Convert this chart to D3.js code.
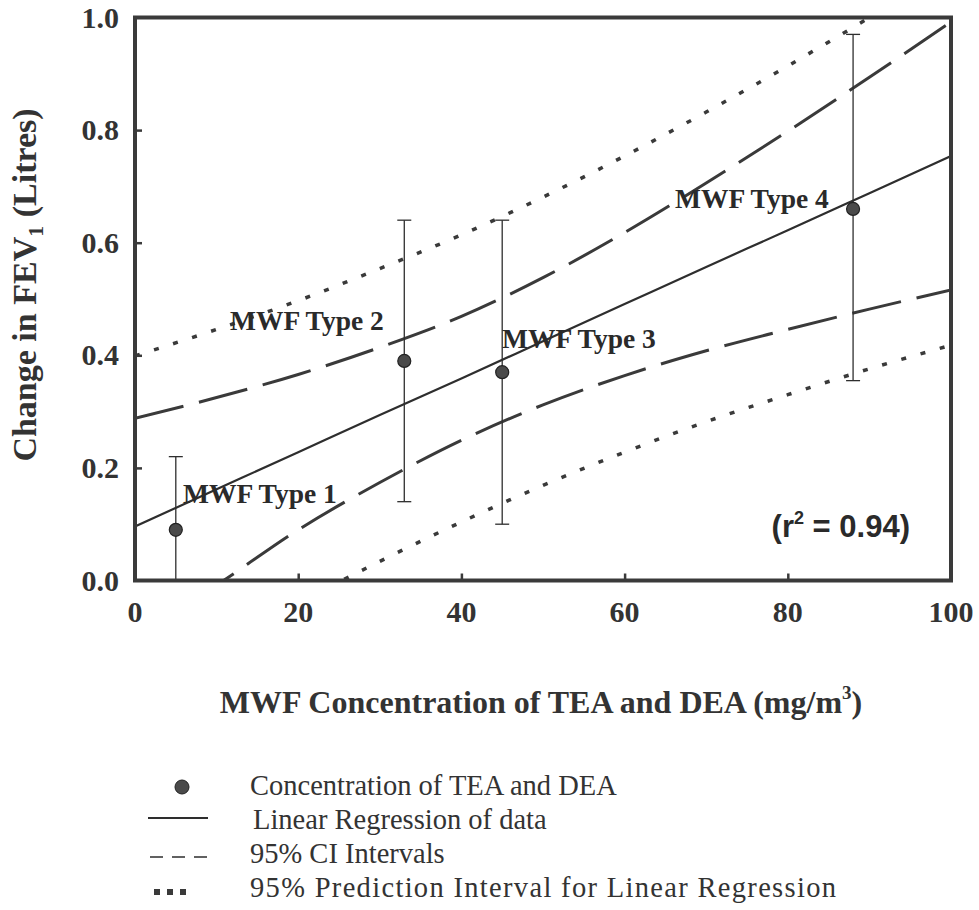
<!DOCTYPE html>
<html>
<head>
<meta charset="utf-8">
<script src="https://cdn.jsdelivr.net/npm/d3@7"></script>
<style>
  html, body { margin: 0; padding: 0; background: #fff; }
  svg { display: block; }
</style>
</head>
<body>
<svg id="chart" width="979" height="910"></svg>
<script>
// Measured exposure groups
const groups = ["MWF Type 1", "MWF Type 2", "MWF Type 3", "MWF Type 4"];
const concentration = [5, 33, 45, 88];          // mg/m3
const fevChange = [0.09, 0.39, 0.37, 0.66];     // litres
const errLow = [0.0, 0.14, 0.10, 0.355];
const errHigh = [0.22, 0.64, 0.64, 0.97];

// Regression line and interval bands, sampled along the concentration axis
const bandX = [0, 10, 20, 30, 40, 50, 60, 70, 80, 90, 100];
const regression = [0.096, 0.162, 0.228, 0.294, 0.359, 0.425, 0.491, 0.557, 0.622, 0.688, 0.754];
const ciUpper = [0.288, 0.325, 0.366, 0.414, 0.469, 0.538, 0.618, 0.706, 0.798, 0.894, 0.992];
const ciLower = [-0.096, -0.008, 0.090, 0.174, 0.249, 0.312, 0.364, 0.408, 0.446, 0.482, 0.516];
const piUpper = [0.399, 0.446, 0.497, 0.554, 0.614, 0.681, 0.754, 0.832, 0.914, 1.000, 1.090];
const piLower = [-0.207, -0.122, -0.041, 0.034, 0.104, 0.169, 0.228, 0.282, 0.330, 0.376, 0.418];

const xTicks = [0, 20, 40, 60, 80, 100];
const yTicks = [0.0, 0.2, 0.4, 0.6, 0.8, 1.0];

const legendLabels = [
  "Concentration of TEA and DEA",
  "Linear Regression of data",
  "95% CI Intervals",
  "95% Prediction Interval for Linear Regression"
];

const ink = "#333";
const serif = "'Liberation Serif', 'Times New Roman', Times, serif";

const svg = d3.select("#chart");
const x = d3.scaleLinear().domain([0, 100]).range([135, 951]);
const y = d3.scaleLinear().domain([0, 1]).range([580.5, 17.5]);

// clip for the curves
svg.append("defs").append("clipPath").attr("id", "plot-clip")
  .append("rect")
  .attr("x", x(0)).attr("y", y(1))
  .attr("width", x(100) - x(0)).attr("height", y(0) - y(1));

const plot = svg.append("g").attr("clip-path", "url(#plot-clip)");

const line = d3.line()
  .x((d, i) => x(bandX[i]))
  .y(d => y(d))
  .curve(d3.curveMonotoneX);

// prediction interval (dotted)
[piUpper, piLower].forEach(arr => {
  plot.append("path")
    .attr("d", line(arr))
    .attr("fill", "none")
    .attr("stroke", "#3a3a3a")
    .attr("stroke-width", 3.5)
    .attr("stroke-dasharray", "5 15");
});

// confidence interval (long dash)
[ciUpper, ciLower].forEach(arr => {
  plot.append("path")
    .attr("d", line(arr))
    .attr("fill", "none")
    .attr("stroke", "#3a3a3a")
    .attr("stroke-width", 3)
    .attr("stroke-dasharray", "50 16");
});

// regression line
plot.append("path")
  .attr("d", line(regression))
  .attr("fill", "none")
  .attr("stroke", "#2e2e2e")
  .attr("stroke-width", 2.2);

// error bars
const eb = svg.append("g").attr("stroke", "#2e2e2e").attr("stroke-width", 1.3);
concentration.forEach((c, i) => {
  eb.append("line")
    .attr("x1", x(c)).attr("x2", x(c))
    .attr("y1", y(errLow[i])).attr("y2", y(errHigh[i]));
  eb.append("line")
    .attr("x1", x(c) - 7).attr("x2", x(c) + 7)
    .attr("y1", y(errHigh[i])).attr("y2", y(errHigh[i]));
  if (errLow[i] > 0) {
    eb.append("line")
      .attr("x1", x(c) - 7).attr("x2", x(c) + 7)
      .attr("y1", y(errLow[i])).attr("y2", y(errLow[i]));
  }
});

// data points
svg.append("g").selectAll("circle")
  .data(concentration)
  .join("circle")
  .attr("cx", d => x(d))
  .attr("cy", (d, i) => y(fevChange[i]))
  .attr("r", 6.5)
  .attr("fill", "#4a4a4a")
  .attr("stroke", "#222")
  .attr("stroke-width", 1.2);

// group labels
const labelPos = [[183, 503], [230, 330], [502, 348], [675, 208]];
svg.append("g").selectAll("text")
  .data(groups)
  .join("text")
  .attr("x", (d, i) => labelPos[i][0])
  .attr("y", (d, i) => labelPos[i][1])
  .attr("font-family", serif)
  .attr("font-weight", "bold")
  .attr("font-size", 27.5)
  .attr("fill", "#2a2a2a")
  .text(d => d);

// r-squared note
const r2 = svg.append("text")
  .attr("x", 910).attr("y", 537)
  .attr("text-anchor", "end")
  .attr("font-family", "'Liberation Sans', Arial, sans-serif")
  .attr("font-weight", "bold")
  .attr("font-size", 31)
  .attr("fill", "#2a2a2a");
r2.append("tspan").text("(r");
r2.append("tspan").attr("font-size", 18).attr("dy", -13).text("2");
r2.append("tspan").attr("dy", 13).text(" = 0.94)");

// frame
svg.append("rect")
  .attr("x", x(0)).attr("y", y(1))
  .attr("width", x(100) - x(0)).attr("height", y(0) - y(1))
  .attr("fill", "none")
  .attr("stroke", "#3a3a3a")
  .attr("stroke-width", 4);

// inward ticks
const xAxis = d3.axisBottom(x).tickValues(xTicks.slice(1, -1)).tickSize(-7).tickFormat("");
svg.append("g").attr("transform", `translate(0,${y(0)})`).call(xAxis)
  .call(g => g.select(".domain").remove())
  .call(g => g.selectAll("line").attr("stroke", "#3a3a3a").attr("stroke-width", 2.5));
const yAxis = d3.axisLeft(y).tickValues(yTicks.slice(1, -1)).tickSize(-7).tickFormat("");
svg.append("g").attr("transform", `translate(${x(0)},0)`).call(yAxis)
  .call(g => g.select(".domain").remove())
  .call(g => g.selectAll("line").attr("stroke", "#3a3a3a").attr("stroke-width", 2.5));

// tick labels
svg.append("g").selectAll("text")
  .data(xTicks)
  .join("text")
  .attr("x", d => x(d))
  .attr("y", 622)
  .attr("text-anchor", "middle")
  .attr("font-family", serif)
  .attr("font-weight", "bold")
  .attr("font-size", 30)
  .attr("fill", ink)
  .text(d => d);

svg.append("g").selectAll("text")
  .data(yTicks)
  .join("text")
  .attr("x", 119)
  .attr("y", d => y(d) + 10)
  .attr("text-anchor", "end")
  .attr("font-family", serif)
  .attr("font-weight", "bold")
  .attr("font-size", 30)
  .attr("fill", ink)
  .text(d => d3.format(".1f")(d));

// axis titles
const xt = svg.append("text")
  .attr("x", 541).attr("y", 713)
  .attr("text-anchor", "middle")
  .attr("font-family", serif)
  .attr("font-weight", "bold")
  .attr("font-size", 32)
  .attr("fill", ink);
xt.append("tspan").text("MWF Concentration of TEA and DEA (mg/m");
xt.append("tspan").attr("font-size", 19).attr("dy", -14).text("3");
xt.append("tspan").attr("dy", 14).text(")");

const yt = svg.append("text")
  .attr("transform", "translate(36,285) rotate(-90)")
  .attr("text-anchor", "middle")
  .attr("font-family", serif)
  .attr("font-weight", "bold")
  .attr("font-size", 34)
  .attr("fill", ink);
yt.append("tspan").text("Change in FEV");
yt.append("tspan").attr("font-size", 22).attr("dy", 7).text("1");
yt.append("tspan").attr("dy", -7).text(" (Litres)");

// legend
const legendY = [795, 829, 863, 897];
const lg = svg.append("g");
lg.selectAll("text")
  .data(legendLabels)
  .join("text")
  .attr("x", (d, i) => i === 1 ? 253 : 250)
  .attr("y", (d, i) => legendY[i])
  .attr("font-family", serif)
  .attr("font-size", 28.5)
  .attr("fill", ink)
  .attr("textLength", (d, i) => i === 3 ? 586 : null)
  .attr("lengthAdjust", "spacing")
  .text(d => d);

lg.append("circle").attr("cx", 182).attr("cy", legendY[0] - 8).attr("r", 7)
  .attr("fill", "#4a4a4a").attr("stroke", "#222").attr("stroke-width", 1);
lg.append("line").attr("x1", 148).attr("x2", 208)
  .attr("y1", legendY[1] - 11).attr("y2", legendY[1] - 11)
  .attr("stroke", "#2e2e2e").attr("stroke-width", 2);
lg.append("line").attr("x1", 150).attr("x2", 208)
  .attr("y1", legendY[2] - 6).attr("y2", legendY[2] - 6)
  .attr("stroke", "#2e2e2e").attr("stroke-width", 1.6)
  .attr("stroke-dasharray", "13 9");
lg.append("line").attr("x1", 154).attr("x2", 192)
  .attr("y1", legendY[3] - 5).attr("y2", legendY[3] - 5)
  .attr("stroke", "#3a3a3a").attr("stroke-width", 6)
  .attr("stroke-dasharray", "6 7");
</script>
</body>
</html>
